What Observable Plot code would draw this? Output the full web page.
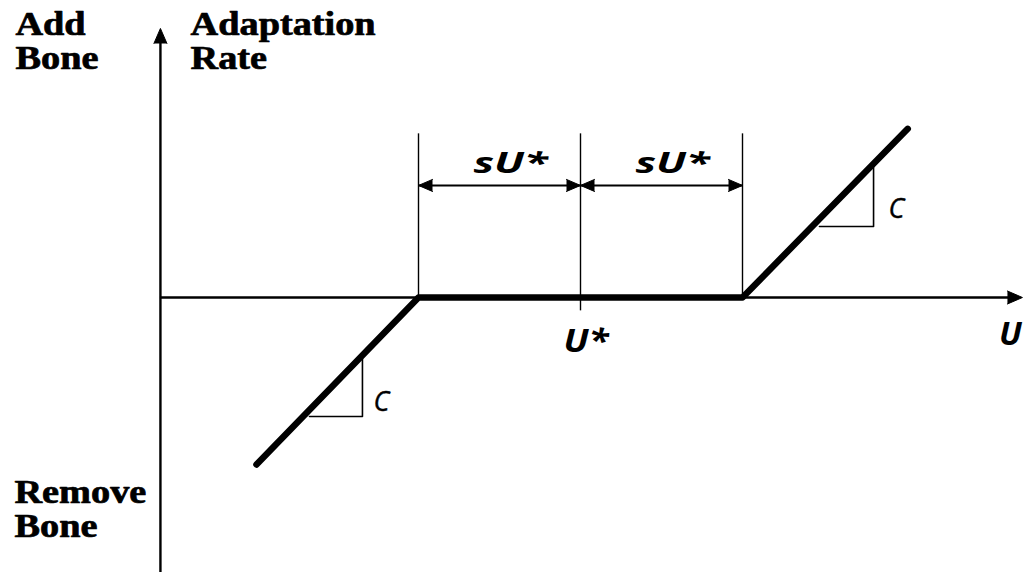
<!DOCTYPE html>
<html>
<head>
<meta charset="utf-8">
<script src="https://cdn.jsdelivr.net/npm/d3@7"></script>
<script src="https://cdn.jsdelivr.net/npm/@observablehq/plot@0.6"></script>
<style>
  html, body { margin: 0; padding: 0; background: #fff; }
  #chart svg { display: block; }
</style>
</head>
<body>
<div id="chart"></div>
<script>
// ---- data (units: U measured from U*, in multiples of sU*; rate in units of C·sU*) ----
const curveU    = [-2.0, -1, 1, 2.02];     // adaptation-rate curve, U values
const curveRate = [-1.0,  0, 0, 1.01];     // adaptation-rate curve, rate values
const boundaryU = [-1, 0, 1];              // U* - sU*, U*, U* + sU*
const boundaryBottom = [0, -0.08, 0];
const boundaryTop = 0.98;
const dimensionRate = 0.671;               // level of the sU* dimension arrows
const dimensionLabels = ["sU*", "sU*"];
const dimensionLabelU = [-0.432, 0.568];
const dimensionLabelRate = 0.743;
const axisU = [-2.593, 2.728];             // horizontal axis extent
const axisRate = [-1.7, 1.611];            // vertical axis extent
// slope triangles: [u left, u right, rate bottom, rate top]
const slopeTriangles = [
  [-1.673, -1.346, -0.713, -0.365],
  [ 1.475,  1.809,  0.425,  0.778]
];
const slopeLabel = "C";
const slopeLabelU = [-1.278, 1.901];
const slopeLabelRate = [-0.677, 0.479];
const axisLabels = ["U*", "U"];
const axisLabelU = [0.034, 2.654];
const axisLabelRate = [-0.329, -0.287];
const serifLabels = ["Add", "Bone", "Adaptation", "Rate", "Remove", "Bone"];
const serifLabelU = [-3.488, -3.488, -2.407, -2.407, -3.494, -3.494];
const serifLabelRate = [1.569, 1.371, 1.569, 1.371, -1.228, -1.437];

// ---- derived tables ----
const curve = curveU.map((u, i) => ({u, r: curveRate[i]}));
const boundaries = boundaryU.map((u, i) => ({u, r1: boundaryBottom[i], r2: boundaryTop}));
const triLines = slopeTriangles.map(([a, b, lo, hi]) => [{u: a, r: lo}, {u: b, r: lo}, {u: b, r: hi}]);
const dimHeads = [
  {u: boundaryU[0], rot: -90}, {u: boundaryU[1], rot: 90},
  {u: boundaryU[1], rot: -90}, {u: boundaryU[2], rot: 90}
];
const dimLabels = dimensionLabels.map((t, i) => ({t, u: dimensionLabelU[i], r: dimensionLabelRate}));
const slopeLabels = slopeLabelU.map((u, i) => ({t: slopeLabel, u, r: slopeLabelRate[i]}));
const axLabels = axisLabels.map((t, i) => ({t, u: axisLabelU[i], r: axisLabelRate[i]}));
const serif = serifLabels.map((t, i) => ({t, u: serifLabelU[i], r: serifLabelRate[i]}));

const sans = "Open Sans, Liberation Sans, sans-serif";
const serifFont = "Liberation Serif, Times New Roman, serif";

const plot = Plot.plot({
  width: 1025,
  height: 572,
  margin: 0,
  x: {domain: [-1, 1], range: [418, 742], axis: null},
  y: {domain: [-1, 1], range: [464, 130], axis: null},
  marks: [
    // axes
    Plot.ruleY([0], {x1: axisU[0], x2: axisU[1] - 0.03, stroke: "black", strokeWidth: 2.4}),
    Plot.ruleX([axisU[0]], {y1: axisRate[0], y2: axisRate[1] - 0.03, stroke: "black", strokeWidth: 2.4}),
    Plot.vector([{u: axisU[1], r: 0}], {x: "u", y: "r", rotate: 90, length: 15, r: 6.5, shape: "spike", anchor: "end", fill: "black", stroke: "black", strokeWidth: 1}),
    Plot.vector([{u: axisU[0], r: axisRate[1]}], {x: "u", y: "r", rotate: 0, length: 15, r: 6.5, shape: "spike", anchor: "end", fill: "black", stroke: "black", strokeWidth: 1}),
    // boundary (extension) lines
    Plot.ruleX(boundaries, {x: "u", y1: "r1", y2: "r2", stroke: "black", strokeWidth: 1.4}),
    // dimension arrows
    Plot.ruleY([dimensionRate], {x1: boundaryU[0], x2: boundaryU[2], stroke: "black", strokeWidth: 2}),
    Plot.vector(dimHeads, {x: "u", y: () => dimensionRate, rotate: "rot", length: 14, r: 6, shape: "spike", anchor: "end", fill: "black", stroke: "black", strokeWidth: 1}),
    // slope triangles
    ...triLines.map(t => Plot.line(t, {x: "u", y: "r", stroke: "black", strokeWidth: 1.6})),
    // adaptation rate curve
    Plot.line(curve, {x: "u", y: "r", stroke: "black", strokeWidth: 6.5, strokeLinecap: "round", strokeLinejoin: "round"}),
    // labels
    Plot.text(dimLabels, {x: "u", y: "r", text: "t", textAnchor: "middle", lineAnchor: "bottom", fontFamily: sans, fontWeight: "bold", fontStyle: "italic", fontSize: 29, fill: "black"}),
    Plot.text(slopeLabels, {x: "u", y: "r", text: "t", textAnchor: "start", lineAnchor: "bottom", fontFamily: sans, fontStyle: "italic", fontSize: 27, fill: "black", stroke: "black", strokeWidth: 0.4}),
    Plot.text(axLabels, {x: "u", y: "r", text: "t", textAnchor: "middle", lineAnchor: "bottom", fontFamily: sans, fontWeight: "bold", fontStyle: "italic", fontSize: 33, fill: "black"}),
    Plot.text(serif, {x: "u", y: "r", text: "t", textAnchor: "start", lineAnchor: "bottom", fontFamily: serifFont, fontWeight: "bold", fontSize: 33, fill: "black", stroke: "black", strokeWidth: 0.7})
  ]
});

document.getElementById("chart").appendChild(plot);

// the reference is stretched horizontally: widen glyphs to match
d3.select(plot).selectAll("text").each(function () {
  const ff = this.getAttribute("font-family") || (this.parentNode && this.parentNode.getAttribute("font-family")) || "";
  const txt = this.textContent;
  let k = 1;
  if (ff.indexOf("Serif") >= 0) k = 1.16;
  else if (dimensionLabels.includes(txt)) k = 1.5;
  else if (txt === axisLabels[0]) k = 1.1;
  if (k !== 1) {
    const w = this.getComputedTextLength();
    this.setAttribute("textLength", (w * k).toFixed(1));
    this.setAttribute("lengthAdjust", "spacingAndGlyphs");
  }
});
</script>
</body>
</html>
